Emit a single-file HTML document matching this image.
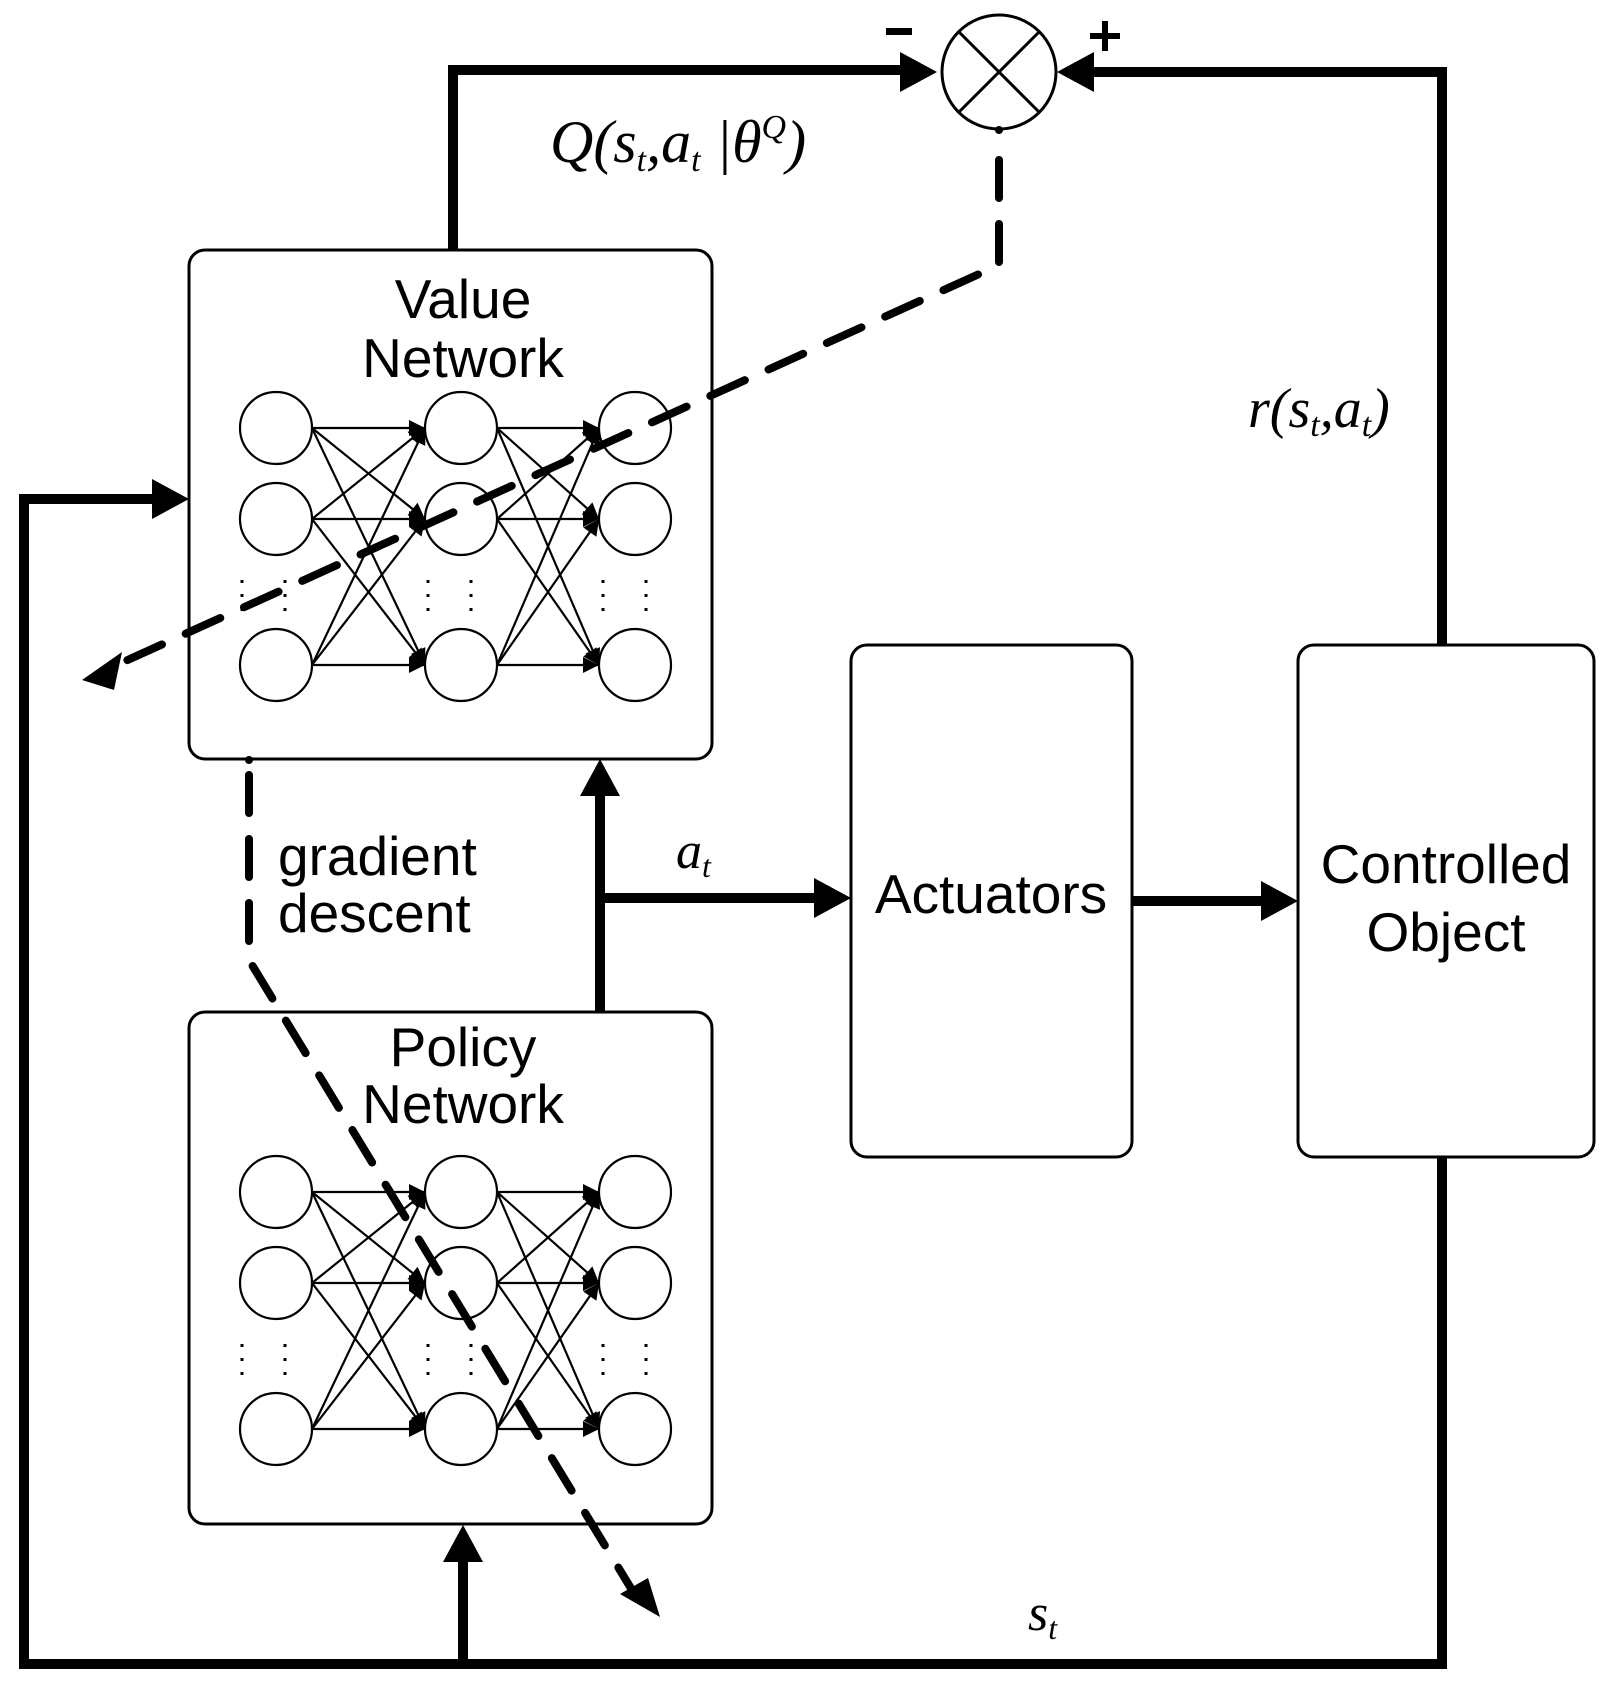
<!DOCTYPE html>
<html><head><meta charset="utf-8"><style>
html,body{margin:0;padding:0;background:#fff;}
svg{display:block;}
.s{font-family:"Liberation Sans",Arial,sans-serif;font-size:55px;fill:#000;}
.m{font-family:"Liberation Serif","Times New Roman",serif;font-style:italic;fill:#000;}
</style></head><body>
<svg width="1615" height="1689" viewBox="0 0 1615 1689" xmlns="http://www.w3.org/2000/svg">
<defs>
<marker id="sa2" viewBox="0 0 10 10" refX="10" refY="5" markerWidth="22" markerHeight="16" markerUnits="userSpaceOnUse" orient="auto"><path d="M0,0 L10,5 L0,10 z" fill="#000"/></marker>
</defs>
<g fill="none" stroke="#000">
<rect x="189" y="250" width="523" height="509" rx="16" stroke-width="3"/>
<rect x="189" y="1012" width="523" height="512" rx="16" stroke-width="3"/>
<rect x="851" y="645" width="281" height="512" rx="16" stroke-width="3"/>
<rect x="1298" y="645" width="296" height="512" rx="16" stroke-width="3"/>
<circle cx="999" cy="72" r="57" stroke-width="3"/>
<line x1="959" y1="32" x2="1039" y2="112" stroke-width="3"/>
<line x1="1039" y1="32" x2="959" y2="112" stroke-width="3"/>
<g stroke-width="10">
<polyline points="453,250 453,70 905,70"/>
<polyline points="1442,645 1442,72 1092,72"/>
<polyline points="1442,1157 1442,1664 24,1664 24,499 152,499"/>
<line x1="463" y1="1664" x2="463" y2="1560"/>
<line x1="600" y1="1012" x2="600" y2="795"/>
<line x1="600" y1="898" x2="815" y2="898"/>
<line x1="1132" y1="901" x2="1262" y2="901"/>
</g>
</g>
<g fill="#000">
<polygon points="937,72 900,52 900,92"/>
<polygon points="1057,72 1094,52 1094,92"/>
<polygon points="189,499 152,479 152,519"/>
<polygon points="463,1525 443,1562 483,1562"/>
<polygon points="600,759 580,796 620,796"/>
<polygon points="851,898 814,878 814,918"/>
<polygon points="1298,901 1261,881 1261,921"/>
<circle cx="999" cy="130" r="4"/>
<circle cx="249" cy="760" r="4"/>
<polygon points="82,680 122,652 114,690"/>
<polygon points="660,1617 620,1594 648,1578"/>
<rect x="886" y="28" width="26" height="7"/>
<rect x="1090" y="33" width="30" height="6"/>
<rect x="1102" y="21" width="6" height="30"/>
</g>
<g fill="none" stroke="#000" stroke-width="8" stroke-linecap="round" stroke-dasharray="38,26">
<polyline points="999,160 999,265 110,668"/>
<polyline points="249,775 249,960 632,1590"/>
</g>
<g id="nn" fill="none" stroke="#000" stroke-width="2.2">
<circle cx="276" cy="428" r="36"/><circle cx="276" cy="519" r="36"/><circle cx="276" cy="665" r="36"/>
<circle cx="461" cy="428" r="36"/><circle cx="461" cy="519" r="36"/><circle cx="461" cy="665" r="36"/>
<circle cx="635" cy="428" r="36"/><circle cx="635" cy="519" r="36"/><circle cx="635" cy="665" r="36"/>
<g marker-end="url(#sa2)">
<line x1="312" y1="428" x2="425" y2="428"/><line x1="312" y1="428" x2="425" y2="519"/><line x1="312" y1="428" x2="425" y2="665"/>
<line x1="312" y1="519" x2="425" y2="428"/><line x1="312" y1="519" x2="425" y2="519"/><line x1="312" y1="519" x2="425" y2="665"/>
<line x1="312" y1="665" x2="425" y2="428"/><line x1="312" y1="665" x2="425" y2="519"/><line x1="312" y1="665" x2="425" y2="665"/>
<line x1="497" y1="428" x2="599" y2="428"/><line x1="497" y1="428" x2="599" y2="519"/><line x1="497" y1="428" x2="599" y2="665"/>
<line x1="497" y1="519" x2="599" y2="428"/><line x1="497" y1="519" x2="599" y2="519"/><line x1="497" y1="519" x2="599" y2="665"/>
<line x1="497" y1="665" x2="599" y2="428"/><line x1="497" y1="665" x2="599" y2="519"/><line x1="497" y1="665" x2="599" y2="665"/>
</g>
<g stroke-width="3" stroke-dasharray="3,11">
<line x1="242" y1="580" x2="242" y2="616"/><line x1="285" y1="580" x2="285" y2="616"/>
<line x1="428" y1="580" x2="428" y2="616"/><line x1="471" y1="580" x2="471" y2="616"/>
<line x1="603" y1="580" x2="603" y2="616"/><line x1="646" y1="580" x2="646" y2="616"/>
</g>
</g>
<use href="#nn" transform="translate(0,764)"/>
<text class="s" x="463" y="318" text-anchor="middle">Value</text>
<text class="s" x="463" y="377" text-anchor="middle">Network</text>
<text class="s" x="463" y="1066" text-anchor="middle">Policy</text>
<text class="s" x="463" y="1123" text-anchor="middle">Network</text>
<text class="s" x="278" y="875">gradient</text>
<text class="s" x="278" y="932">descent</text>
<text class="s" x="991" y="913" text-anchor="middle">Actuators</text>
<text class="s" x="1446" y="883" text-anchor="middle">Controlled</text>
<text class="s" x="1446" y="951" text-anchor="middle">Object</text>
<text class="m" x="550" y="162" style="font-size:60px">Q(s<tspan font-size="34" dy="9">t</tspan><tspan dy="-9">,a</tspan><tspan font-size="34" dy="9">t</tspan><tspan dy="-9"> |θ</tspan><tspan font-size="34" dy="-24">Q</tspan><tspan dy="24">)</tspan></text>
<text class="m" x="1248" y="427" style="font-size:56px">r(s<tspan font-size="34" dy="9">t</tspan><tspan dy="-9">,a</tspan><tspan font-size="34" dy="9">t</tspan><tspan dy="-9">)</tspan></text>
<text class="m" x="676" y="868" style="font-size:52px">a<tspan font-size="32" dy="9">t</tspan></text>
<text class="m" x="1028" y="1630" style="font-size:52px">s<tspan font-size="32" dy="9">t</tspan></text>
</svg>
</body></html>
